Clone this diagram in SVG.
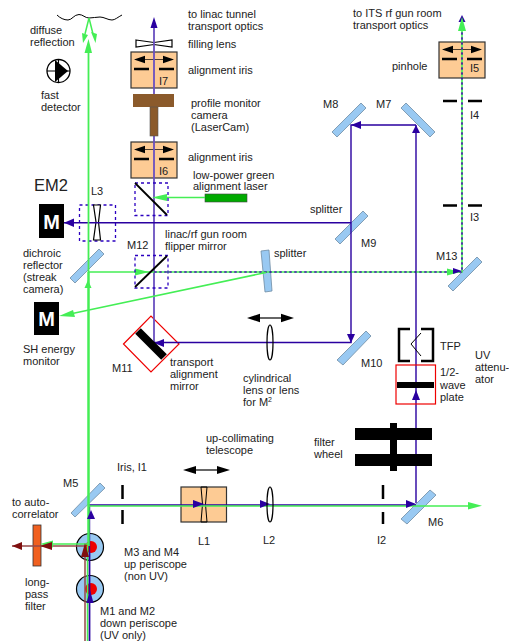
<svg xmlns="http://www.w3.org/2000/svg" width="509" height="641" viewBox="0 0 509 641">
<style>
text{font-family:"Liberation Sans",Arial,sans-serif;font-size:11px;fill:#222}
.mir{fill:#99c9f2;stroke:#6f8ba3;stroke-width:.8}
.iris{fill:#fdcb94;stroke:#333;stroke-width:1.2}
.bar{stroke:#000;stroke-width:2.5;fill:none}
.dash{fill:none;stroke:#2b00c0;stroke-width:1.3;stroke-dasharray:3 3}
.uv{fill:none;stroke:#2a00a0;stroke-width:1.4}
.uvl{fill:none;stroke:#6a50c0;stroke-width:1.8}
.gr{fill:none;stroke:#44ee55;stroke-width:1.5}
.grd{fill:none;stroke:#44ee55;stroke-width:1.6;stroke-dasharray:3 2}
.uvd{fill:none;stroke:#2b00a0;stroke-width:1.6;stroke-dasharray:3 2}
.br{fill:none;stroke:#964848;stroke-width:1.5}
.lens{fill:#fff;stroke:#000;stroke-width:1.2}
.pb{fill:#2a00a0}.pg{fill:#44ee55}.pr{fill:#7f0f0f}
.blk{fill:#000}
.mt{font-size:20px;font-weight:bold;fill:#fff;text-anchor:middle}
</style>
<defs>
<g id="irisbox"><rect class="iris" width="46" height="36"/><path d="M6 7.500H40" stroke="#000" stroke-width=".7"/><polygon class="blk" points="3,7.500 14,3.800 14,11.200"/><polygon class="blk" points="43,7.500 32,3.800 32,11.200"/><path class="bar" d="M3 17H18M28 17H43"/></g>
<g id="peri"><circle r="13.500" fill="#99c9f2" stroke="#000" stroke-width="1.200"/><circle r="6" cx="1" fill="#ee0000"/></g>
</defs>

<g id="wavy-surface"><path d="M57 15C60 18 64 20 68 20C72 20 74 14.500 79 14.500C83 14.500 85 18 89 18C93 18 96 17 100 17C104 17 108 20 112 20C115 20 118 17 122 15" fill="none" stroke="#000" stroke-width="1"/></g>
<g id="fast-detector"><circle cx="58.500" cy="71" r="11.500" fill="#fff" stroke="#000" stroke-width="1.300"/><path d="M47 71H70M58.500 59.500V82.500" stroke="#000" stroke-width="1.100"/><polygon class="blk" points="55,60 55,82 68,71"/></g>
<g id="filling-lens"><path class="lens" d="M136 40L154 42.500L172 40V47L154 44.500L136 47Z"/></g>
<g id="I7"><use href="#irisbox" x="131" y="52"/></g>
<g id="I6"><use href="#irisbox" x="131" y="142"/></g>
<g id="I5"><use href="#irisbox" x="439" y="42"/></g>
<g id="I4"><path class="bar" d="M443 101H457M468 101H482"/></g>
<g id="I3"><path class="bar" d="M443 205.500H457M468 205.500H482"/></g>
<g id="M8"><polygon class="mir" points="361,103 366,108 337,137 332,132"/></g>
<g id="M7"><polygon class="mir" points="406,103 401,108 430,137 435,132"/></g>
<g id="M9"><polygon class="mir" points="363,211 368,216 340,244 335,239"/></g>
<g id="M10"><polygon class="mir" points="366,331 371,336 343,365 337,360"/></g>
<g id="M13"><polygon class="mir" points="477,257 482,262 453,291 448,286"/></g>
<g id="splitter2"><polygon class="mir" points="261,251 269,250 272,291 265,292"/></g>
<g id="dichroic"><polygon class="mir" points="99,249 104,254 75,283 70,278"/></g>
<g id="M5"><polygon class="mir" points="100,483 105,488 75,517 71,513"/></g>
<g id="M6"><polygon class="mir" points="430,490 436,495 407,524 401,519"/></g>
<g id="laser"><rect x="205" y="194" width="42" height="8" fill="#00aa00" stroke="#444" stroke-width=".6"/></g>
<g id="EM2-monitor"><rect x="39" y="204" width="25" height="34" fill="#000"/><text class="mt" x="51.500" y="229">M</text></g>
<g id="SH-monitor"><rect x="34" y="302" width="25" height="33" fill="#000"/><text class="mt" x="46.500" y="326">M</text></g>
<g id="L3"><rect class="dash" x="79.500" y="205" width="36" height="36"/><path class="lens" d="M93.500 205H100.500L98.500 222L100.500 240H93.500L96 222Z"/></g>
<g id="M11"><polygon points="123.500,344 151,316 179,344 151,372" fill="#fff" stroke="#ee0000" stroke-width="1.200"/></g>
<g id="L1"><rect class="iris" x="181" y="487" width="45.500" height="35"/><path d="M201 487Q204 504 201 522M207 487Q204 504 207 522M201 487H207M201 522H207" fill="none" stroke="#000" stroke-width="1"/></g>
<g id="M3-M4-periscope"><use href="#peri" x="90" y="547"/></g>
<g id="M1-M2-periscope"><use href="#peri" x="90" y="589"/></g>
<g id="long-pass-filter"><rect x="33" y="525" width="8" height="41" fill="#f06020" stroke="#333" stroke-width=".8"/></g>

<g id="connectors">
<path class="uvl" d="M154 20V342"/>
<path class="uv" d="M154 342.500H351V125H416M416 503V125M351 222.700H64"/>
<path class="uv" d="M89.500 552V505H416"/>
<path class="uvd" d="M154 272H462V20"/>
<path class="grd" d="M154 272H462V20" stroke-dashoffset="2.500"/>
<path class="br" d="M85 641V546H12"/>
<path class="uv" style="stroke-width:1.800" d="M89.500 641V552"/>
<path class="gr" d="M87.500 641V546"/>
<path class="gr" style="stroke-width:2.500" d="M88.500 546V272"/>
<path class="gr" style="stroke-width:1.800" d="M88.500 272V50"/>
<path class="gr" d="M88.500 272H154"/>
<path class="gr" d="M89 18L85 34M89 18L93 34"/>
<path class="gr" d="M89 506H470"/>
<path class="gr" d="M88 544H44"/>
<path class="gr" d="M205 197.500H160"/>
<path class="gr" d="M266 272.500L70 314"/>
<polygon class="pb" points="154,17 150.500,28 157.500,28"/>
<polygon class="pg" points="88.500,39 84.500,53 92,53"/>
<polygon class="pg" points="82,33 88,35 83,43"/>
<polygon class="pg" points="91,32 97,34 95.500,43"/>
<polygon class="pb" points="462,15 458.500,22 465.500,22"/>
<polygon class="pg" points="462,17 458,31 466,31"/>
<polygon class="pg" points="152,197.500 167,194 167,201"/>
<polygon class="pb" points="64,222.700 74,218.500 74,227"/>
<polygon class="pg" points="88,280 84.500,288 91.500,288"/>
<polygon class="pg" points="149,272 135,268.500 135,275.500"/>
<polygon class="pg" points="59,316 73,310 75,317"/>
<polygon class="pb" points="351,125 361,121 361,129"/>
<polygon class="pb" points="416,125 412,133 420,133"/>
<polygon class="pb" points="351,343 347,334 355,334"/>
<polygon class="pb" points="154,343 164,339 164,347"/>
<polygon class="pg" points="460,272 447,268.500 447,275.500"/>
<polygon class="pb" points="462,271 453,268 453,274"/>
<polygon class="pb" points="416,390 412,400 420,400"/>
<polygon class="pb" points="91,510 87,519 95,519"/>
<polygon class="pb" points="204,504 193,500 193,508"/>
<polygon class="pb" points="270,504 260,500 260,508"/>
<polygon class="pb" points="416,504 406,500 406,508"/>
<polygon class="pg" points="482,505.700 468,502 468,509.500"/>
<polygon class="pg" points="40,544 53,540.500 53,547.500"/>
<polygon class="pr" points="12,546 22,542 22,550"/>
<polygon class="pr" points="40,546 52,542 52,550"/>
<polygon class="pb" points="90,590 86.500,603 93.500,603"/>
<polygon class="pr" points="85,543 81,557 89,557"/>
</g>

<g id="profile-monitor"><rect x="133" y="94" width="41" height="13" fill="#8b5a2b"/><rect x="150" y="107" width="8" height="29" fill="#8b5a2b" stroke="#555" stroke-width=".6"/></g>
<g id="flipper-upper"><rect class="dash" x="135" y="183" width="33" height="32.500"/><path d="M135 183L167 215" stroke="#000" stroke-width="1.800"/></g>
<g id="M12"><rect class="dash" x="135" y="255.500" width="33" height="32.500"/><path d="M135 287L167 256" stroke="#000" stroke-width="1.800"/></g>
<g id="M11-mirror"><path d="M138 331L164 357" stroke="#000" stroke-width="8"/></g>
<g id="cyl-lens"><ellipse cx="270" cy="342.500" rx="3" ry="17.500" fill="none" stroke="#000" stroke-width="1.200"/></g>
<g id="cyl-arrow"><path d="M258 318H285" stroke="#000" stroke-width="1.200"/><polygon class="blk" points="247,318 260,313.700 260,322.300"/><polygon class="blk" points="294,318 281,313.700 281,322.300"/></g>
<g id="TFP"><path d="M410 329H399V361H410M421 329H433V361H421" fill="none" stroke="#000" stroke-width="2.500"/><path d="M421 333L411 344L421 356" fill="none" stroke="#000" stroke-width="1"/></g>
<g id="waveplate"><rect x="396" y="365" width="39.500" height="39" fill="none" stroke="#ee0000" stroke-width="1.200"/><rect x="397" y="382" width="37" height="6" fill="#000"/></g>
<g id="filter-wheel"><rect x="355" y="428" width="77" height="12" fill="#000"/><rect x="355" y="454" width="77" height="12" fill="#000"/><rect x="390" y="423" width="7" height="48" fill="#000"/></g>
<g id="I1"><path d="M122.500 485V499M122.500 510V524" stroke="#000" stroke-width="2.500"/></g>
<g id="I2"><path d="M383 485V499M383 512V524" stroke="#000" stroke-width="2.500"/></g>
<g id="L2"><ellipse cx="270" cy="504.500" rx="3" ry="17.500" fill="none" stroke="#000" stroke-width="1.200"/></g>
<g id="telescope-arrow"><path d="M194 470H220" stroke="#000" stroke-width="1.200"/><polygon class="blk" points="183,470 196,466 196,474"/><polygon class="blk" points="230,470 217,466 217,474"/></g>

<g id="labels">
<text x="188" y="18">to linac tunnel</text><text x="188" y="30">transport optics</text>
<text x="188" y="48">filling lens</text>
<text x="188" y="74">alignment iris</text>
<text x="191" y="107">profile monitor</text><text x="191" y="119">camera</text><text x="191" y="131">(LaserCam)</text>
<text x="188" y="161">alignment iris</text>
<text x="193" y="179">low-power green</text><text x="193" y="190">alignment laser</text>
<text x="353" y="17">to ITS rf gun room</text><text x="353" y="29">transport optics</text>
<text x="392" y="70">pinhole</text>
<text x="470" y="72">I5</text><text x="159" y="85">I7</text><text x="159" y="175">I6</text>
<text x="323" y="108">M8</text><text x="376" y="108">M7</text>
<text x="470" y="119">I4</text><text x="470" y="221">I3</text>
<text x="310" y="213">splitter</text><text x="361" y="247">M9</text>
<text x="274" y="257">splitter</text><text x="436" y="260">M13</text>
<text x="361" y="367">M10</text><text x="440" y="350">TFP</text>
<text x="440" y="376">1/2-</text><text x="440" y="389">wave</text><text x="440" y="401">plate</text>
<text x="475" y="359">UV</text><text x="475" y="371">attenu-</text><text x="475" y="383">ator</text>
<text x="30" y="34">diffuse</text><text x="30" y="46">reflection</text>
<text x="41" y="99">fast</text><text x="41" y="111">detector</text>
<text x="34" y="191" style="font-size:16.500px">EM2</text><text x="91" y="195">L3</text>
<text x="23" y="257">dichroic</text><text x="23" y="269">reflector</text><text x="23" y="281">(streak</text><text x="23" y="293">camera)</text>
<text x="23" y="353">SH energy</text><text x="23" y="365">monitor</text>
<text x="127" y="249">M12</text>
<text x="165" y="238">linac/rf gun room</text><text x="165" y="250">flipper mirror</text>
<text x="112" y="372">M11</text>
<text x="170" y="366">transport</text><text x="170" y="378">alignment</text><text x="170" y="390">mirror</text>
<text x="243" y="382">cylindrical</text><text x="243" y="394">lens or lens</text><text x="243" y="406">for M<tspan dy="-4" style="font-size:7px">2</tspan></text>
<text x="206" y="442">up-collimating</text><text x="206" y="454">telescope</text>
<text x="314" y="446">filter</text><text x="314" y="458">wheel</text>
<text x="63" y="487">M5</text><text x="117" y="471">Iris, I1</text>
<text x="12" y="506">to auto-</text><text x="12" y="518">correlator</text>
<text x="198" y="545">L1</text><text x="263" y="544">L2</text><text x="377" y="544">I2</text><text x="428" y="526">M6</text>
<text x="124" y="556">M3 and M4</text><text x="124" y="568">up periscope</text><text x="124" y="580">(non UV)</text>
<text x="25" y="586">long-</text><text x="25" y="598">pass</text><text x="25" y="610">filter</text>
<text x="100" y="615">M1 and M2</text><text x="100" y="627">down periscope</text><text x="100" y="639">(UV only)</text>
</g>
</svg>
